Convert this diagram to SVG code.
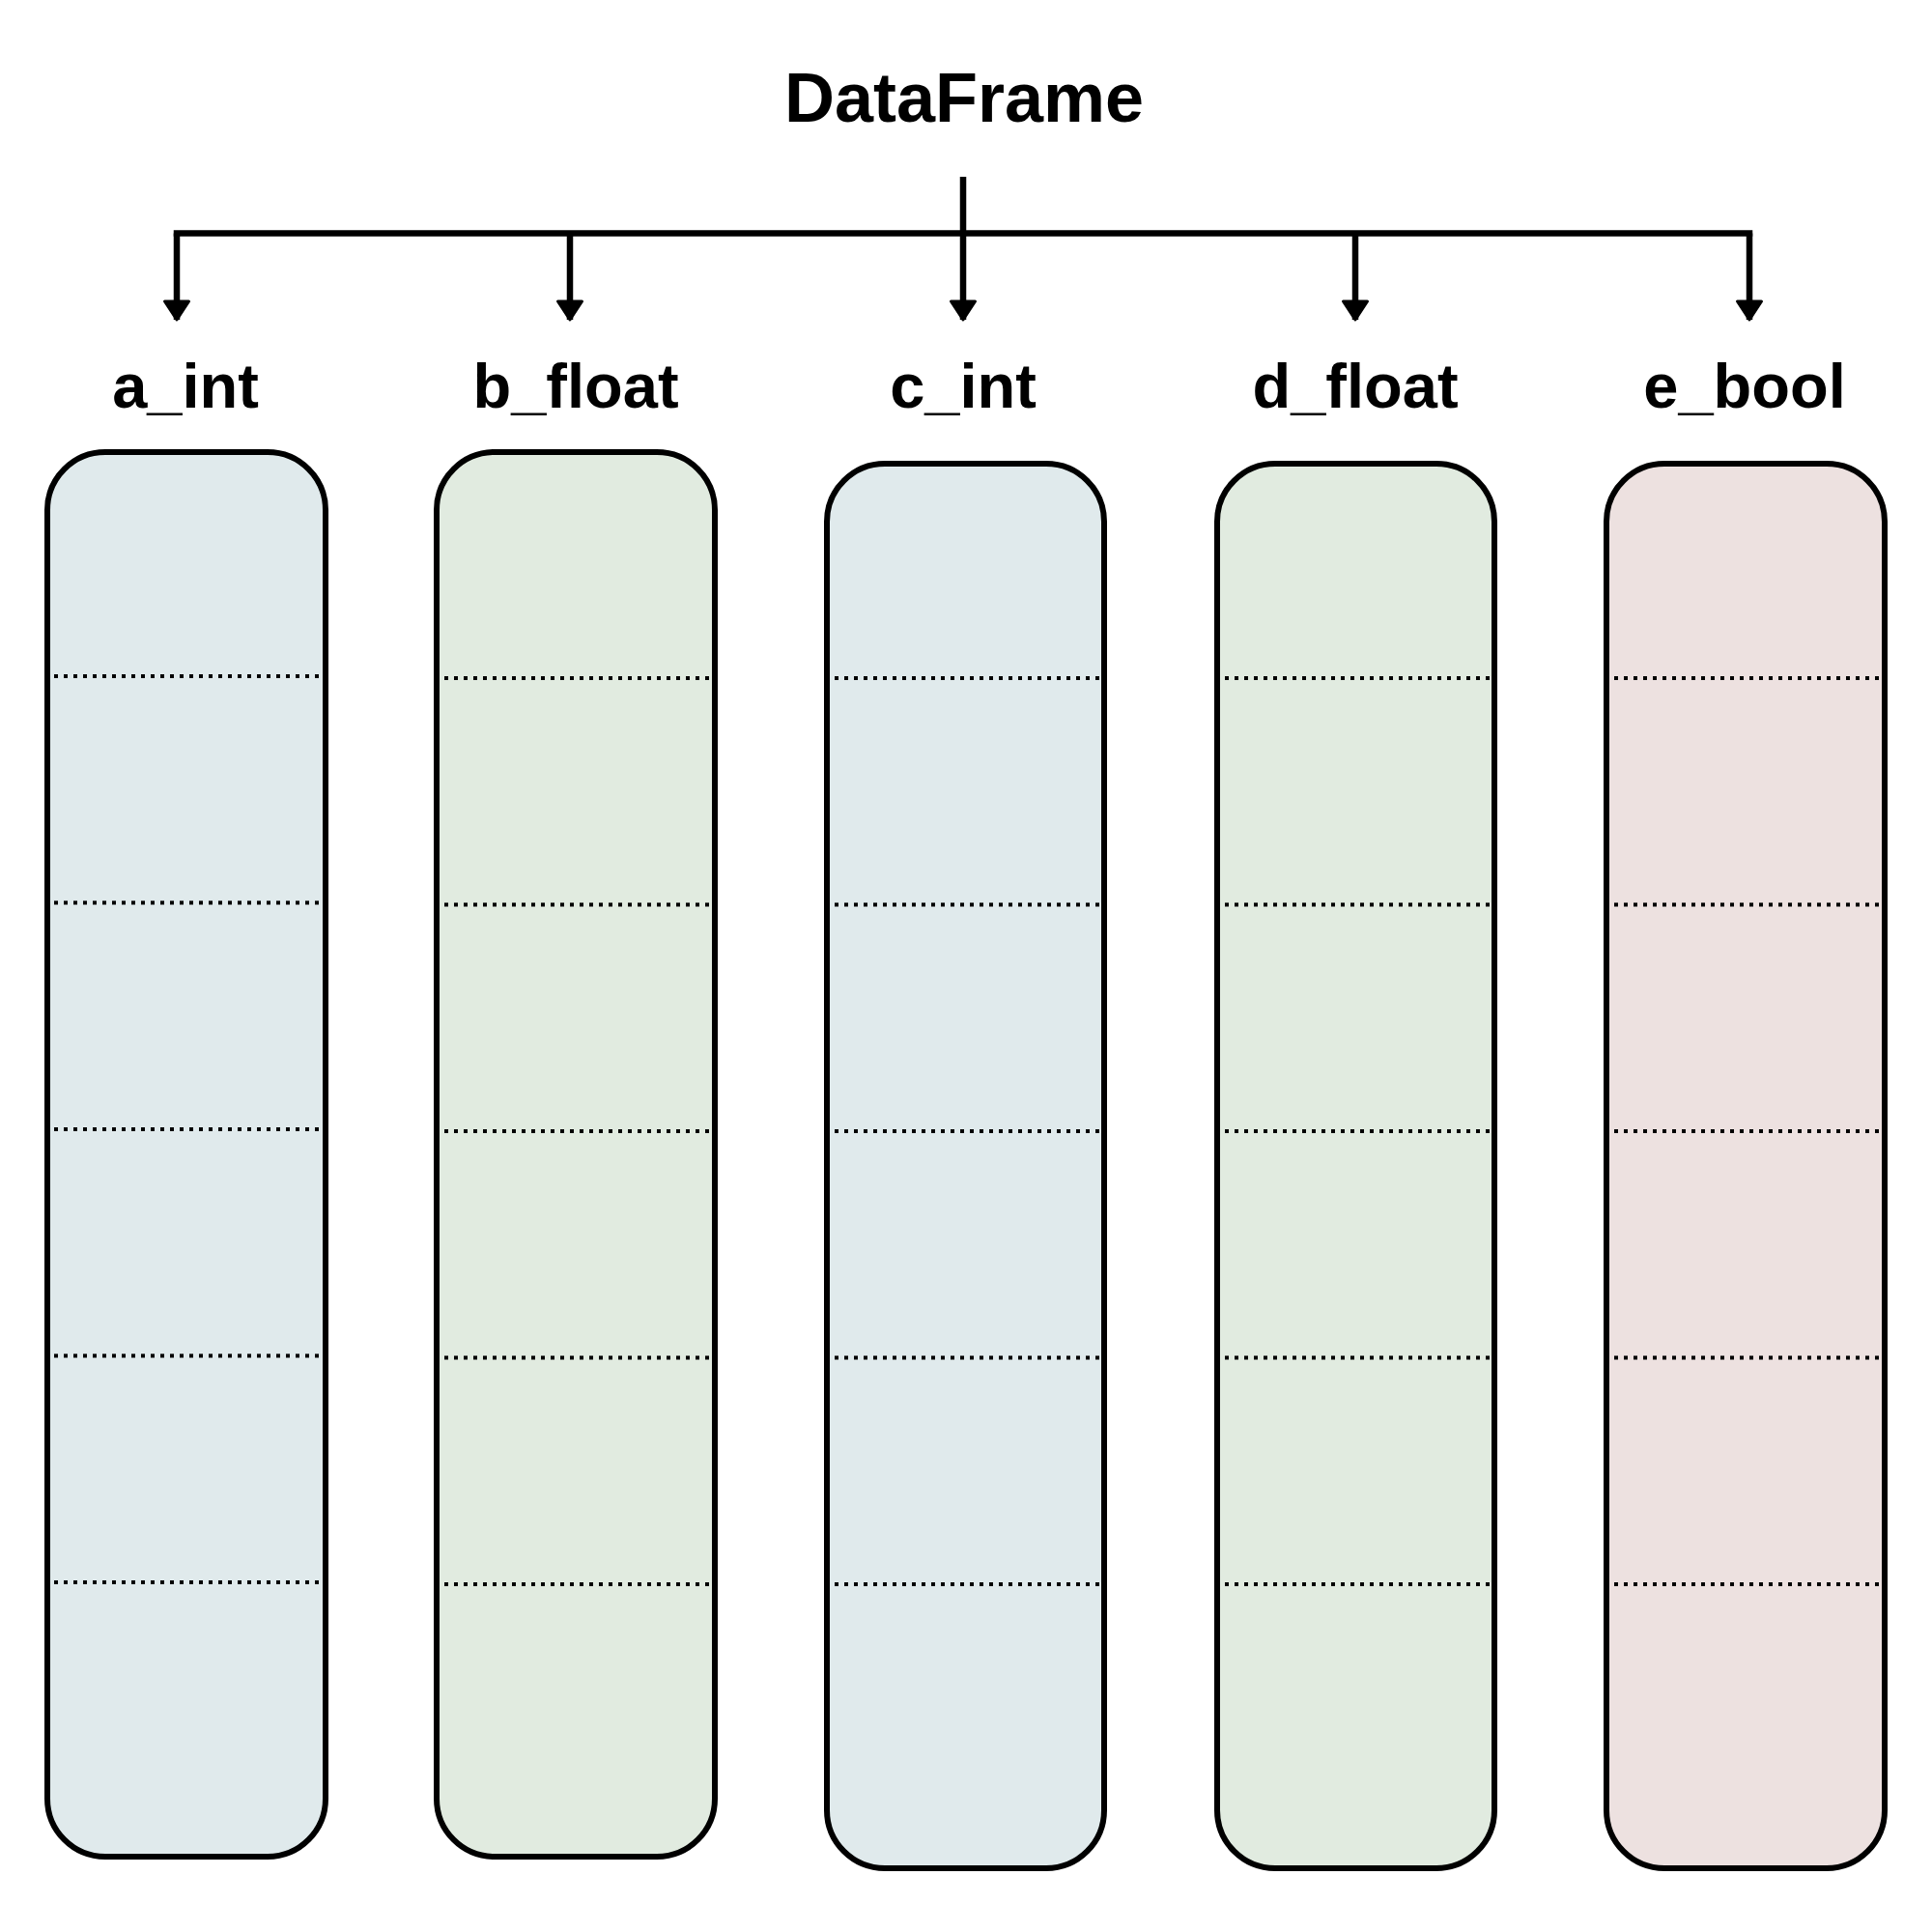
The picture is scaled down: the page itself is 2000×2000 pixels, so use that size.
<svg xmlns="http://www.w3.org/2000/svg" width="2000" height="2000" viewBox="0 0 2000 2000">
  <style>
    .title { font-family: "Liberation Sans", Arial, sans-serif; font-weight: bold; font-size: 72px; fill: #000; text-anchor: middle; }
    .label { font-family: "Liberation Sans", Arial, sans-serif; font-weight: bold; font-size: 65px; fill: #000; text-anchor: middle; }
    .col { stroke: #000; stroke-width: 6; }
    .int { fill: #e0eaec; }
    .float { fill: #e1ebe0; }
    .bool { fill: #ede1e0; }
    .row { stroke: #000; stroke-width: 4; stroke-dasharray: 4 6; fill: none; }
    .conn { stroke: #000; stroke-width: 6.5; fill: none; }
  </style>
  <defs>
    <marker id="arrow" markerUnits="userSpaceOnUse" viewBox="-3 -17 25 34" markerWidth="25" markerHeight="34" refX="19" refY="0" orient="auto">
      <path d="M0,-12.5 L19,0 L0,12.5 Z" fill="#000" stroke="#000" stroke-width="3" stroke-linejoin="round"/>
    </marker>
  </defs>
  <rect width="2000" height="2000" fill="#fff"/>

  <g id="dataframe">
    <text class="title" x="998" y="126">DataFrame</text>
  </g>

  <g id="connectors">
    <line class="conn" x1="183" y1="241.5" x2="1811" y2="241.5" stroke-linecap="square"/>
    <line class="conn" x1="997" y1="183" x2="997" y2="331" marker-end="url(#arrow)"/>
    <line class="conn" x1="183" y1="241.5" x2="183" y2="331" marker-end="url(#arrow)"/>
    <line class="conn" x1="590" y1="241.5" x2="590" y2="331" marker-end="url(#arrow)"/>
    <line class="conn" x1="1403" y1="241.5" x2="1403" y2="331" marker-end="url(#arrow)"/>
    <line class="conn" x1="1811" y1="241.5" x2="1811" y2="331" marker-end="url(#arrow)"/>
  </g>

  <g id="a_int">
    <text class="label" x="192" y="422">a_int</text>
    <rect class="int" x="49" y="468" width="288" height="1454" rx="60" ry="60"/>
    <g class="rows">
      <line class="row" x1="56" y1="700" x2="340" y2="700"/>
      <line class="row" x1="56" y1="934.5" x2="340" y2="934.5"/>
      <line class="row" x1="56" y1="1169" x2="340" y2="1169"/>
      <line class="row" x1="56" y1="1403.5" x2="340" y2="1403.5"/>
      <line class="row" x1="56" y1="1638" x2="340" y2="1638"/>
    </g>
    <rect class="col" fill="none" x="49" y="468" width="288" height="1454" rx="60" ry="60"/>
  </g>

  <g id="b_float">
    <text class="label" x="596" y="422">b_float</text>
    <rect class="float" x="452" y="468" width="288" height="1454" rx="60" ry="60"/>
    <g class="rows">
      <line class="row" x1="460" y1="702" x2="736" y2="702"/>
      <line class="row" x1="460" y1="936.5" x2="736" y2="936.5"/>
      <line class="row" x1="460" y1="1171" x2="736" y2="1171"/>
      <line class="row" x1="460" y1="1405.5" x2="736" y2="1405.5"/>
      <line class="row" x1="460" y1="1640" x2="736" y2="1640"/>
    </g>
    <rect class="col" fill="none" x="452" y="468" width="288" height="1454" rx="60" ry="60"/>
  </g>

  <g id="c_int">
    <text class="label" x="997" y="422">c_int</text>
    <rect class="int" x="856" y="480" width="287" height="1454" rx="60" ry="60"/>
    <g class="rows">
      <line class="row" x1="864" y1="702" x2="1139" y2="702"/>
      <line class="row" x1="864" y1="936.5" x2="1139" y2="936.5"/>
      <line class="row" x1="864" y1="1171" x2="1139" y2="1171"/>
      <line class="row" x1="864" y1="1405.5" x2="1139" y2="1405.5"/>
      <line class="row" x1="864" y1="1640" x2="1139" y2="1640"/>
    </g>
    <rect class="col" fill="none" x="856" y="480" width="287" height="1454" rx="60" ry="60"/>
  </g>

  <g id="d_float">
    <text class="label" x="1403" y="422">d_float</text>
    <rect class="float" x="1260" y="480" width="287" height="1454" rx="60" ry="60"/>
    <g class="rows">
      <line class="row" x1="1268" y1="702" x2="1543" y2="702"/>
      <line class="row" x1="1268" y1="936.5" x2="1543" y2="936.5"/>
      <line class="row" x1="1268" y1="1171" x2="1543" y2="1171"/>
      <line class="row" x1="1268" y1="1405.5" x2="1543" y2="1405.5"/>
      <line class="row" x1="1268" y1="1640" x2="1543" y2="1640"/>
    </g>
    <rect class="col" fill="none" x="1260" y="480" width="287" height="1454" rx="60" ry="60"/>
  </g>

  <g id="e_bool">
    <text class="label" x="1806" y="422">e_bool</text>
    <rect class="bool" x="1663" y="480" width="288" height="1454" rx="60" ry="60"/>
    <g class="rows">
      <line class="row" x1="1671" y1="702" x2="1947" y2="702"/>
      <line class="row" x1="1671" y1="936.5" x2="1947" y2="936.5"/>
      <line class="row" x1="1671" y1="1171" x2="1947" y2="1171"/>
      <line class="row" x1="1671" y1="1405.5" x2="1947" y2="1405.5"/>
      <line class="row" x1="1671" y1="1640" x2="1947" y2="1640"/>
    </g>
    <rect class="col" fill="none" x="1663" y="480" width="288" height="1454" rx="60" ry="60"/>
  </g>
</svg>
